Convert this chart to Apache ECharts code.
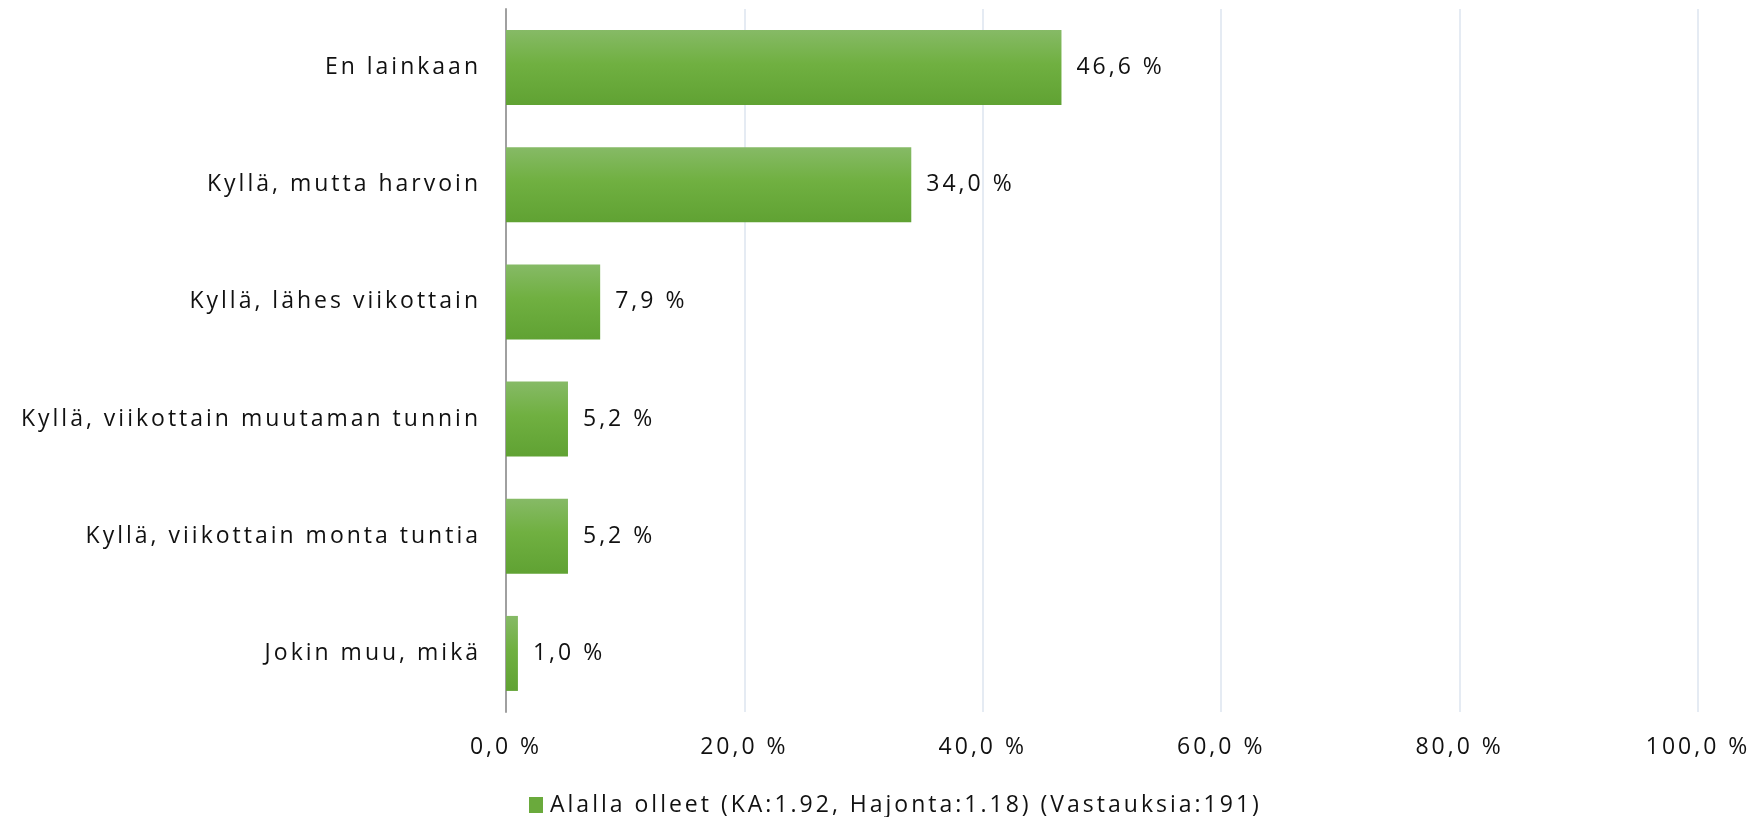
<!DOCTYPE html>
<html>
<head>
<meta charset="utf-8">
<script src="https://cdn.jsdelivr.net/npm/echarts@6/dist/echarts.min.js"></script>
<style>
html,body{margin:0;padding:0;background:#fff;}
#chart{width:1755px;height:817px;}
</style>
</head>
<body>
<div id="chart"></div>
<script>
const categories = [
  "En lainkaan",
  "Kyllä, mutta harvoin",
  "Kyllä, lähes viikottain",
  "Kyllä, viikottain muutaman tunnin",
  "Kyllä, viikottain monta tuntia",
  "Jokin muu, mikä"
];
const values = [46.6, 34.0, 7.9, 5.2, 5.2, 1.0];
const seriesName = "Alalla olleet (KA:1.92, Hajonta:1.18) (Vastauksia:191)";
const xTicks = [0, 20, 40, 60, 80, 100];

// tracked text, like the reference (canvas letter-spacing)
(function(){
  const P = CanvasRenderingContext2D.prototype;
  const f = P.fillText, m = P.measureText;
  P.fillText = function(){ this.letterSpacing = '3px'; return f.apply(this, arguments); };
  P.measureText = function(){ this.letterSpacing = '3px'; return m.apply(this, arguments); };
})();

function pct(v){ return v.toFixed(1).replace('.', ',') + ' %'; }

const FONT = "Open Sans";
const FS = 23;
const chart = echarts.init(document.getElementById('chart'));
chart.setOption({
  animation: false,
  backgroundColor: '#ffffff',
  textStyle: { fontFamily: FONT },
  grid: { left: 506, right: 57, top: 9, bottom: 105, containLabel: false },
  legend: {
    left: 524, top: 787,
    itemWidth: 14, itemHeight: 16, itemGap: 10,
    textStyle: { fontFamily: FONT, fontSize: FS, color: '#111', padding: [0,0,0,2] },
    data: [{ name: seriesName, icon: 'rect', itemStyle: { color: '#6aaa3c' } }]
  },
  xAxis: {
    type: 'value', min: xTicks[0], max: xTicks[xTicks.length-1], interval: 20,
    axisLine: { show: false }, axisTick: { show: false },
    splitLine: { show: true, lineStyle: { color: '#dde4ef', width: 1.5 } },
    axisLabel: { margin: 22, fontFamily: FONT, fontSize: FS, color: '#111', formatter: v => pct(v) }
  },
  yAxis: {
    type: 'category', data: categories, inverse: true,
    axisLine: { show: true, lineStyle: { color: '#a0a0a0', width: 2 } },
    axisTick: { show: false },
    axisLabel: { margin: 25, fontFamily: FONT, fontSize: FS, color: '#111' }
  },
  series: [{
    name: seriesName, type: 'bar', data: values,
    barCategoryGap: '36%',
    itemStyle: {
      color: new echarts.graphic.LinearGradient(0, 0, 0, 1, [
        { offset: 0, color: '#86ba66' },
        { offset: 0.45, color: '#70b041' },
        { offset: 1, color: '#60a233' }
      ])
    },
    label: {
      show: true, position: 'right', distance: 15,
      fontFamily: FONT, fontSize: FS, color: '#111',
      formatter: p => pct(p.value)
    }
  }]
});
</script>
</body>
</html>
